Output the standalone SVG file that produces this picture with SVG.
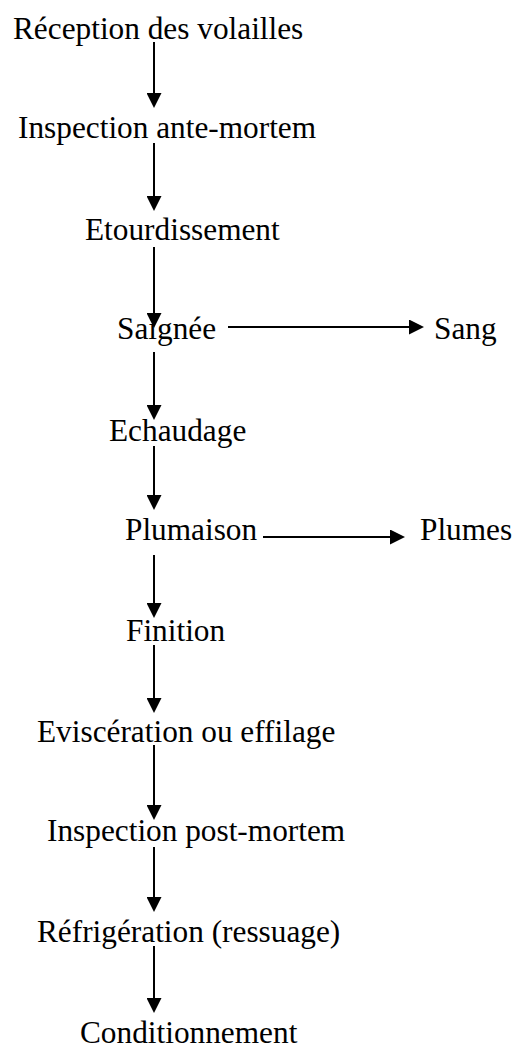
<svg xmlns="http://www.w3.org/2000/svg" width="519" height="1048" viewBox="0 0 519 1048">
  <style>
    text { font-family: "Liberation Serif", "Times New Roman", serif; font-size: 31.3px; fill: #000; }
    .conn line { stroke: #000; stroke-width: 2; }
  </style>
  <defs>
    <marker id="arr" markerUnits="userSpaceOnUse" markerWidth="16" markerHeight="15" refX="0" refY="7.5" orient="auto">
      <path d="M0,0 L15,7.5 L0,15 z" fill="#000"/>
    </marker>
  </defs>
  <rect width="519" height="1048" fill="#fff"/>
  <g class="conn" id="connectors">
    <line x1="154" y1="42" x2="154" y2="93" marker-end="url(#arr)"/>
    <line x1="154" y1="143" x2="154" y2="196" marker-end="url(#arr)"/>
    <line x1="154" y1="247" x2="154" y2="313" marker-end="url(#arr)"/>
    <line x1="154" y1="352" x2="154" y2="405" marker-end="url(#arr)"/>
    <line x1="154" y1="446" x2="154" y2="495" marker-end="url(#arr)"/>
    <line x1="154" y1="555" x2="154" y2="603" marker-end="url(#arr)"/>
    <line x1="154" y1="645" x2="154" y2="698" marker-end="url(#arr)"/>
    <line x1="154" y1="745" x2="154" y2="805" marker-end="url(#arr)"/>
    <line x1="154" y1="847" x2="154" y2="897" marker-end="url(#arr)"/>
    <line x1="154" y1="946" x2="154" y2="998" marker-end="url(#arr)"/>
    <line x1="228" y1="327" x2="409" y2="327" marker-end="url(#arr)"/>
    <line x1="263" y1="537" x2="390" y2="537" marker-end="url(#arr)"/>
  </g>
  <g id="reception"><text x="13" y="39">Réception des volailles</text></g>
  <g id="inspection-ante"><text x="18" y="138">Inspection ante-mortem</text></g>
  <g id="etourdissement"><text x="85" y="240">Etourdissement</text></g>
  <g id="saignee"><text x="117" y="339">Saignée</text></g>
  <g id="sang"><text x="434" y="339">Sang</text></g>
  <g id="echaudage"><text x="109" y="441">Echaudage</text></g>
  <g id="plumaison"><text x="125" y="540">Plumaison</text></g>
  <g id="plumes"><text x="420" y="540">Plumes</text></g>
  <g id="finition"><text x="126" y="641">Finition</text></g>
  <g id="evisceration"><text x="37" y="742">Eviscération ou effilage</text></g>
  <g id="inspection-post"><text x="47" y="841">Inspection post-mortem</text></g>
  <g id="refrigeration"><text x="37" y="942">Réfrigération (ressuage)</text></g>
  <g id="conditionnement"><text x="80" y="1043">Conditionnement</text></g>
</svg>
